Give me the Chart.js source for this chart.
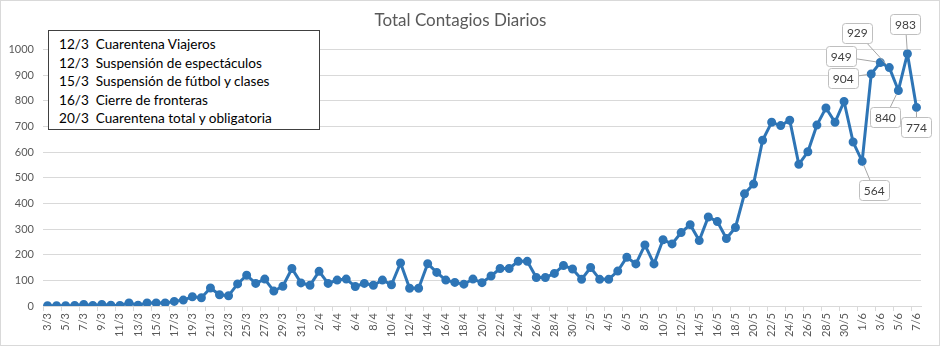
<!DOCTYPE html>
<html>
<head>
<meta charset="utf-8">
<script src="https://cdn.jsdelivr.net/npm/chart.js@4"></script>
<style>
  html, body { margin: 0; padding: 0; background: #fff; }
  #wrap { position: relative; width: 940px; height: 346px; }
  #notes {
    position: absolute; left: 48px; top: 30px; width: 272px; height: 100px;
    border: 1px solid #404040; background: #fff;
    font-family: Lato, "Liberation Sans", sans-serif; font-size: 13.6px; color: #000;
    line-height: 18.5px; padding: 4px 0 0 10px; box-sizing: border-box;
  }
</style>
</head>
<body>
<div id="wrap">
  <canvas id="chart" width="940" height="346"></canvas>
  <div id="notes">
    <div>12/3&nbsp; Cuarentena Viajeros</div>
    <div>12/3&nbsp; Suspensión de espectáculos</div>
    <div>15/3&nbsp; Suspensión de fútbol y clases</div>
    <div>16/3&nbsp; Cierre de fronteras</div>
    <div>20/3&nbsp; Cuarentena total y obligatoria</div>
  </div>
</div>
<script>
// categories: one per day, 3/3 .. 7/6
const dayLabels = (
  '3/3 4/3 5/3 6/3 7/3 8/3 9/3 10/3 11/3 12/3 13/3 14/3 15/3 16/3 17/3 18/3 19/3 20/3 ' +
  '21/3 22/3 23/3 24/3 25/3 26/3 27/3 28/3 29/3 30/3 31/3 ' +
  '1/4 2/4 3/4 4/4 5/4 6/4 7/4 8/4 9/4 10/4 11/4 12/4 13/4 14/4 15/4 16/4 17/4 18/4 19/4 20/4 ' +
  '21/4 22/4 23/4 24/4 25/4 26/4 27/4 28/4 29/4 30/4 ' +
  '1/5 2/5 3/5 4/5 5/5 6/5 7/5 8/5 9/5 10/5 11/5 12/5 13/5 14/5 15/5 16/5 17/5 18/5 19/5 20/5 ' +
  '21/5 22/5 23/5 24/5 25/5 26/5 27/5 28/5 29/5 30/5 31/5 ' +
  '1/6 2/6 3/6 4/6 5/6 6/6 7/6'
).split(' ');

const marchCases = [1, 1, 1, 2, 6, 2, 6, 3, 2, 12, 3, 12, 12, 12, 18, 23, 36, 32, 70, 44,
  40, 86, 120, 88, 105, 58, 77, 146, 90];
const aprilCases = [81, 135, 88, 101, 105, 76, 88, 81, 101, 83, 168, 69, 69, 165, 131, 101, 92, 85, 105, 91,
  117, 146, 146, 174, 174, 111, 111, 127, 158, 144];
const mayCases = [104, 150, 104, 104, 136, 190, 164, 238, 164, 258, 242, 286, 317, 255, 347, 329, 263, 306, 437, 475,
  646, 716, 703, 724, 552, 601, 705, 772, 716, 797, 639];
const juneCases = [564, 904, 949, 929, 840, 983, 774];

const dailyCases = [...marchCases, ...aprilCases, ...mayCases, ...juneCases];

// points that carry a value callout
const calloutDates = ['1/6', '2/6', '3/6', '4/6', '5/6', '6/6', '7/6'];
// box centre offset from the point, in px
const calloutOffsets = [[12, 29], [-28, 4], [-39, -6], [-32, -35], [-13, 27], [-2, -30], [0, 20]];

const FONT = 'Lato, "Liberation Sans", sans-serif';
const BLUE = '#2e75b6';

const frame = {
  id: 'frame',
  afterDraw(chart) {
    const ctx = chart.ctx;
    ctx.save();
    ctx.strokeStyle = '#d9d9d9';
    ctx.lineWidth = 1;
    ctx.strokeRect(0.5, 0.5, chart.width - 1, chart.height - 1);
    ctx.restore();
  }
};

const callouts = {
  id: 'callouts',
  afterDatasetsDraw(chart) {
    const ctx = chart.ctx;
    const meta = chart.getDatasetMeta(0);
    ctx.save();
    ctx.font = '12px ' + FONT;
    const boxes = calloutDates.map((d, k) => {
      const i = dayLabels.indexOf(d);
      const pt = meta.data[i];
      const [dx, dy] = calloutOffsets[k];
      return { px: pt.x, py: pt.y, bx: pt.x + dx, by: pt.y + dy, text: String(dailyCases[i]) };
    });
    // leader lines
    ctx.strokeStyle = '#a6a6a6';
    ctx.lineWidth = 1;
    boxes.forEach(b => {
      const len = Math.hypot(b.bx - b.px, b.by - b.py) || 1;
      const r = 4;
      ctx.beginPath();
      ctx.moveTo(b.px + (b.bx - b.px) / len * r, b.py + (b.by - b.py) / len * r);
      ctx.lineTo(b.bx, b.by);
      ctx.stroke();
    });
    // boxes
    boxes.forEach(b => {
      const w = Math.round(ctx.measureText(b.text).width) + 9;
      const h = 20;
      const x = Math.round(b.bx - w / 2) + 0.5;
      const y = Math.round(b.by - h / 2) + 0.5;
      ctx.beginPath();
      ctx.roundRect(x, y, w, h, 3);
      ctx.fillStyle = '#fff';
      ctx.fill();
      ctx.strokeStyle = '#bfbfbf';
      ctx.stroke();
      ctx.fillStyle = '#404040';
      ctx.textAlign = 'center';
      ctx.textBaseline = 'middle';
      ctx.fillText(b.text, b.bx, b.by + 1);
    });
    ctx.restore();
  }
};

new Chart(document.getElementById('chart'), {
  type: 'line',
  data: {
    labels: dayLabels,
    datasets: [{
      data: dailyCases,
      borderColor: BLUE,
      backgroundColor: BLUE,
      borderWidth: 3,
      pointRadius: 3,
      pointBackgroundColor: BLUE,
      pointBorderColor: BLUE,
      tension: 0
    }]
  },
  options: {
    responsive: false,
    animation: false,
    devicePixelRatio: 1,
    layout: { padding: { left: 0, right: 19, top: 0, bottom: 0 } },
    plugins: {
      legend: { display: false },
      tooltip: { enabled: false },
      title: {
        display: true,
        text: 'Total Contagios Diarios',
        color: '#595959',
        font: { family: FONT, size: 17, weight: 'normal' },
        padding: { top: 10, bottom: 19 }
      }
    },
    scales: {
      x: {
        offset: true,
        grid: {
          offset: true,
          drawOnChartArea: false,
          drawTicks: true,
          tickLength: 5,
          color: c => (c.index % 2 === 0 ? '#d9d9d9' : 'rgba(0,0,0,0)')
        },
        border: { color: '#d9d9d9' },
        ticks: {
          autoSkip: false,
          maxRotation: 90,
          minRotation: 90,
          padding: 2,
          color: '#595959',
          font: { family: FONT, size: 11 },
          callback: (v, i) => (i % 2 === 0 ? dayLabels[i] : '')
        },
        afterFit: s => { s.height = 40; }
      },
      y: {
        min: 0,
        max: 1000,
        grid: { color: '#d9d9d9', drawTicks: false },
        border: { display: false },
        ticks: {
          stepSize: 100,
          padding: 9,
          color: '#595959',
          font: { family: FONT, size: 11 },
          callback: v => String(v)
        },
        afterFit: s => { s.width = 43; }
      }
    }
  },
  plugins: [frame, callouts]
});
</script>
</body>
</html>
